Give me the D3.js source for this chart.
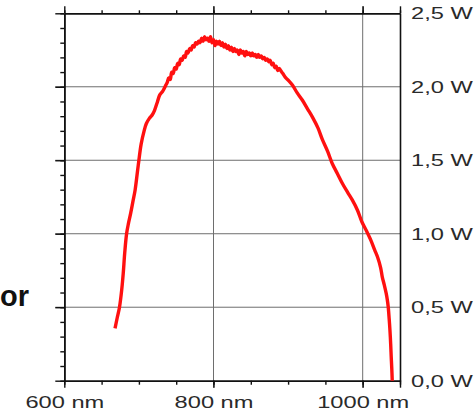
<!DOCTYPE html>
<html><head><meta charset="utf-8">
<script src="https://cdn.jsdelivr.net/npm/d3@7/dist/d3.min.js"></script>
<style>
html,body{margin:0;padding:0;background:#fff;}
svg{display:block;}
</style></head>
<body>
<svg id="chart" width="475" height="415"></svg>
<script>
// ---- data ----
const wavelength = [668, 671, 674, 677, 679, 681, 683.5, 686, 689, 692, 695, 698, 700, 703, 707, 710, 714, 718, 721, 725, 728, 732, 736, 738, 740, 742, 744, 746, 748, 750, 752, 754, 756, 758, 760, 762, 764, 766, 768, 770, 772, 774, 776, 778, 780, 782, 784, 786, 788, 790, 792, 794, 796, 798, 800, 802, 804, 806, 808, 810, 812, 814, 816, 818, 820, 822, 824, 826, 828, 830, 832, 834, 836, 838, 840, 842, 844, 846, 848, 850, 852, 854, 856, 858, 860, 862, 864, 866, 868, 870, 872, 874, 876, 878, 880, 882, 884, 886, 888, 890, 893, 897, 901, 906, 912, 919, 926, 933, 940, 946, 953, 959, 966, 973, 980, 986, 993, 999, 1005, 1011, 1016, 1020, 1024, 1026.2, 1029, 1031.5, 1033, 1034.2, 1035.5, 1036.5, 1037.5, 1038.2, 1039, 1039.6];
const power      = [0.356, 0.43, 0.50, 0.62, 0.73, 0.87, 1.00, 1.07, 1.14, 1.22, 1.30, 1.42, 1.50, 1.61, 1.70, 1.75, 1.785, 1.81, 1.84, 1.90, 1.945, 1.97, 2.01, 2.03, 2.06, 2.05, 2.10, 2.09, 2.13, 2.12, 2.16, 2.15, 2.19, 2.18, 2.21, 2.20, 2.24, 2.23, 2.26, 2.25, 2.28, 2.27, 2.30, 2.29, 2.31, 2.30, 2.33, 2.31, 2.34, 2.32, 2.33, 2.31, 2.34, 2.30, 2.32, 2.28, 2.31, 2.29, 2.31, 2.28, 2.30, 2.27, 2.29, 2.26, 2.28, 2.25, 2.27, 2.24, 2.26, 2.24, 2.25, 2.22, 2.25, 2.23, 2.24, 2.21, 2.24, 2.22, 2.23, 2.21, 2.23, 2.21, 2.22, 2.20, 2.22, 2.20, 2.21, 2.19, 2.20, 2.18, 2.19, 2.17, 2.18, 2.15, 2.16, 2.13, 2.14, 2.11, 2.125, 2.11, 2.09, 2.06, 2.04, 2.01, 1.96, 1.91, 1.85, 1.79, 1.72, 1.64, 1.56, 1.48, 1.41, 1.34, 1.28, 1.23, 1.16, 1.08, 1.02, 0.955, 0.89, 0.84, 0.77, 0.707, 0.65, 0.594, 0.55, 0.503, 0.42, 0.345, 0.25, 0.165, 0.08, 0.0];
const xMajorTicks = [600, 800, 1000];
const xMinorTicks = [600, 650, 700, 750, 800, 850, 900, 950, 1000, 1050];
const yMajorTicks = [0.0, 0.5, 1.0, 1.5, 2.0, 2.5];
const yMinorTicks = d3.range(0, 26).map(i => i / 10);
const sideText = "or";

// ---- layout ----
const svg = d3.select("#chart");
const L = 64.3, R = 400, T = 13.3, B = 380.7;
const SX = 1.39; // horizontal stretch of the reference lettering
const x = d3.scaleLinear().domain([600, 1050]).range([L, R]);
const y = d3.scaleLinear().domain([0, 2.5]).range([B, T]);

const fmtW = d => d.toFixed(1).replace(".", ",") + " W";
const fmtNm = d => d + " nm";

// gridlines
const grid = svg.append("g").attr("stroke", "#6e6e6e").attr("stroke-width", 1);
grid.selectAll("line.v").data(xMajorTicks.filter(d => d > 600)).join("line")
  .attr("x1", d => x(d)).attr("x2", d => x(d)).attr("y1", T - 7).attr("y2", B + 7);
grid.selectAll("line.h").data(yMajorTicks.filter(d => d > 0 && d < 2.5)).join("line")
  .attr("y1", d => y(d)).attr("y2", d => y(d)).attr("x1", L - 9).attr("x2", R);

function styleAxis(g) {
  g.select(".domain").attr("stroke", "#111").attr("stroke-width", 1.6);
  g.selectAll(".tick line").attr("stroke", "#111").attr("stroke-width", 1.4);
}

// bottom axis (minor + major with labels)
svg.append("g").attr("transform", `translate(0,${B})`)
  .call(d3.axisBottom(x).tickValues(xMinorTicks).tickSize(4).tickSizeOuter(0).tickFormat(""))
  .call(styleAxis);
const bx = svg.append("g").attr("transform", `translate(0,${B})`)
  .call(d3.axisBottom(x).tickValues(xMajorTicks.concat([1050])).tickSize(7).tickSizeOuter(0).tickFormat(d => d === 1050 ? "" : fmtNm(d)))
  .call(styleAxis);
bx.selectAll(".tick text")
  .attr("font-family", "'Liberation Sans', Arial, sans-serif").attr("font-size", 17)
  .attr("fill", "#2a2a2a").attr("y", 0).attr("dy", 0)
  .attr("transform", `translate(0,27) scale(${SX},1)`);

// top axis
svg.append("g").attr("transform", `translate(0,${T})`)
  .call(d3.axisTop(x).tickValues(xMinorTicks).tickSize(3).tickSizeOuter(0).tickFormat(""))
  .call(styleAxis);
svg.append("g").attr("transform", `translate(0,${T})`)
  .call(d3.axisTop(x).tickValues(xMajorTicks.concat([1050])).tickSize(7).tickSizeOuter(0).tickFormat(""))
  .call(styleAxis);

// left axis
svg.append("g").attr("transform", `translate(${L},0)`)
  .call(d3.axisLeft(y).tickValues(yMinorTicks).tickSize(4).tickSizeOuter(0).tickFormat(""))
  .call(styleAxis);
svg.append("g").attr("transform", `translate(${L},0)`)
  .call(d3.axisLeft(y).tickValues(yMajorTicks).tickSize(9).tickSizeOuter(0).tickFormat(""))
  .call(styleAxis);

// right axis with labels
const ry = svg.append("g").attr("transform", `translate(${R},0)`)
  .call(d3.axisRight(y).tickValues(yMajorTicks).tickSize(0).tickSizeOuter(0).tickFormat(fmtW))
  .call(styleAxis);
ry.selectAll(".tick text")
  .attr("font-family", "'Liberation Sans', Arial, sans-serif").attr("font-size", 17)
  .attr("fill", "#2a2a2a").attr("x", 0).attr("dy", 0)
  .attr("transform", `translate(11,5.5) scale(${SX},1)`);

// curve
const line = d3.line().x((d, i) => x(wavelength[i])).y(d => y(d)).curve(d3.curveCatmullRom.alpha(0.5));
svg.append("path").datum(power)
  .attr("d", line)
  .attr("fill", "none").attr("stroke", "#ff1010").attr("stroke-width", 3.4)
  .attr("stroke-linejoin", "round").attr("stroke-linecap", "butt");

// partial side text
svg.append("text").attr("x", 0).attr("y", 306)
  .attr("font-family", "'Liberation Sans', Arial, sans-serif").attr("font-weight", "bold")
  .attr("font-size", 29).attr("fill", "#111").text(sideText);
</script>
</body></html>
